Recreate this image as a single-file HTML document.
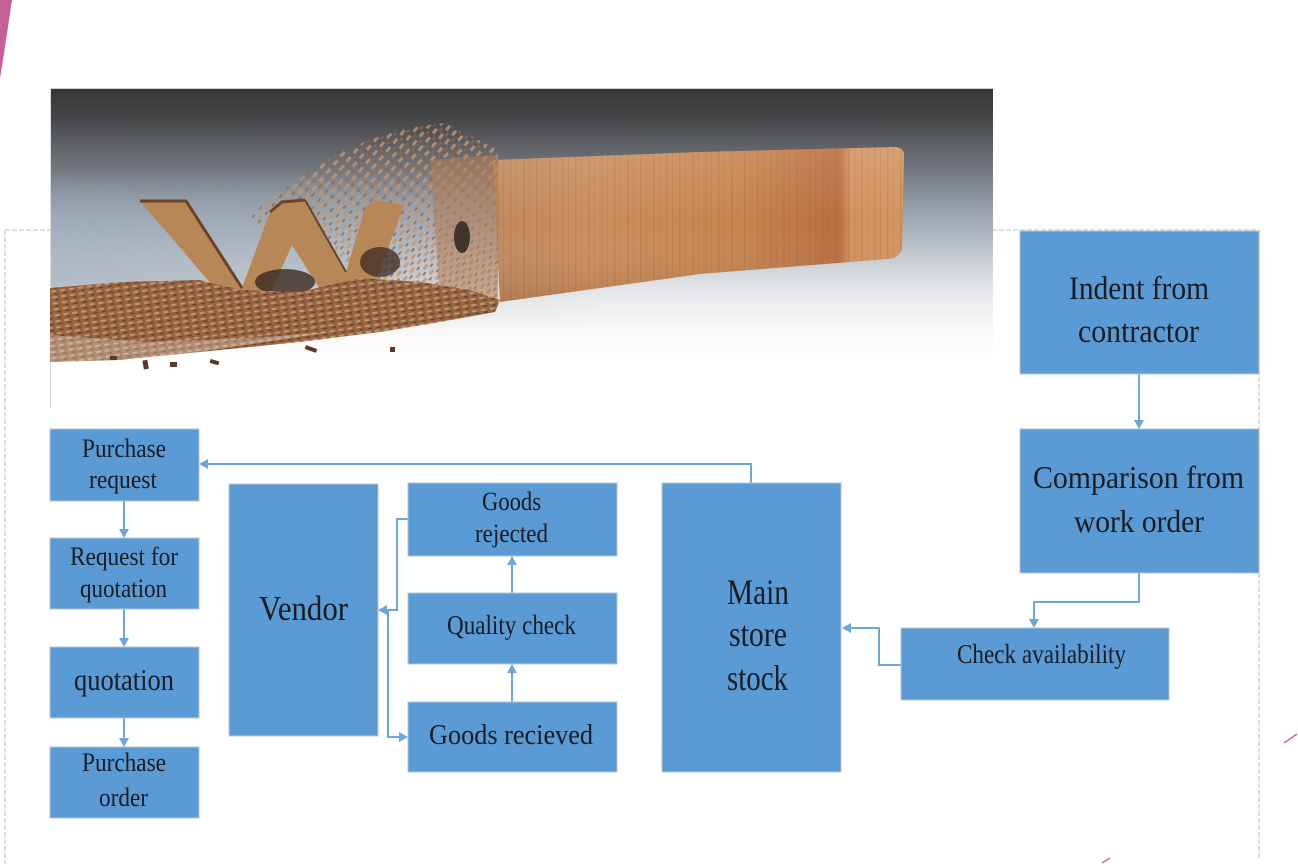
<!DOCTYPE html>
<html>
<head>
<meta charset="utf-8">
<style>
html,body{margin:0;padding:0;background:#fff;}
body{width:1298px;height:864px;overflow:hidden;}
svg{display:block;}
text{font-family:"Liberation Serif","DejaVu Serif",serif;fill:#161c22;}
</style>
</head>
<body>
<svg width="1298" height="864" viewBox="0 0 1298 864" xmlns="http://www.w3.org/2000/svg">
<defs>
  <linearGradient id="bg" gradientUnits="userSpaceOnUse" x1="0" y1="89" x2="0" y2="408">
    <stop offset="0" stop-color="#363636"/>
    <stop offset="0.097" stop-color="#47484a"/>
    <stop offset="0.22" stop-color="#6a6e74"/>
    <stop offset="0.35" stop-color="#8e97a2"/>
    <stop offset="0.46" stop-color="#aeb7c1"/>
    <stop offset="0.55" stop-color="#cdd2d7"/>
    <stop offset="0.65" stop-color="#e9eaec"/>
    <stop offset="0.755" stop-color="#f8f8f8"/>
    <stop offset="0.85" stop-color="#ffffff"/>
    <stop offset="1" stop-color="#ffffff"/>
  </linearGradient>
  <linearGradient id="blueV" gradientUnits="userSpaceOnUse" x1="0" y1="170" x2="0" y2="330">
    <stop offset="0" stop-color="#9eabba" stop-opacity="0"/>
    <stop offset="0.3" stop-color="#9eabba" stop-opacity="0.6"/>
    <stop offset="0.7" stop-color="#a7b3c1" stop-opacity="0.8"/>
    <stop offset="1" stop-color="#c0c8d0" stop-opacity="0"/>
  </linearGradient>
  <linearGradient id="fadeH" gradientUnits="userSpaceOnUse" x1="50" y1="0" x2="600" y2="0">
    <stop offset="0" stop-color="#fff" stop-opacity="1"/>
    <stop offset="0.55" stop-color="#fff" stop-opacity="0.7"/>
    <stop offset="1" stop-color="#fff" stop-opacity="0"/>
  </linearGradient>
  <mask id="mH" maskUnits="userSpaceOnUse" x="50" y="89" width="943" height="319">
    <rect x="50" y="89" width="943" height="319" fill="url(#fadeH)"/>
  </mask>
  <linearGradient id="plank" gradientUnits="userSpaceOnUse" x1="490" y1="0" x2="905" y2="0">
    <stop offset="0" stop-color="#c08a5e"/>
    <stop offset="0.25" stop-color="#c98e5e"/>
    <stop offset="0.6" stop-color="#c7854f"/>
    <stop offset="0.84" stop-color="#b96d3f"/>
    <stop offset="0.87" stop-color="#d39260"/>
    <stop offset="1" stop-color="#d3955f"/>
  </linearGradient>
  <linearGradient id="plankV" gradientUnits="userSpaceOnUse" x1="0" y1="148" x2="0" y2="300">
    <stop offset="0" stop-color="#ffffff" stop-opacity="0.12"/>
    <stop offset="0.5" stop-color="#ffffff" stop-opacity="0"/>
    <stop offset="1" stop-color="#5a2e10" stop-opacity="0.15"/>
  </linearGradient>
  <pattern id="grain" width="13" height="20" patternUnits="userSpaceOnUse">
    <rect x="3" y="0" width="1.5" height="20" fill="#9a5a30" opacity="0.25"/>
    <rect x="9" y="0" width="1" height="20" fill="#9a5a30" opacity="0.18"/>
  </pattern>
  <pattern id="flakes" width="11" height="8" patternUnits="userSpaceOnUse" patternTransform="rotate(-50)">
    <rect x="0" y="0" width="6" height="3" fill="#c9956b"/>
    <rect x="6" y="4" width="4" height="2" fill="#9a6644"/>
  </pattern>
  <pattern id="pile" width="9" height="6" patternUnits="userSpaceOnUse" patternTransform="rotate(-8)">
    <rect x="0" y="0" width="9" height="6" fill="#946443"/>
    <rect x="1" y="1" width="5" height="2" fill="#c4946a"/>
    <rect x="4" y="4" width="4" height="1.5" fill="#6a4329"/>
  </pattern>
</defs>

<!-- pink decoration -->
<polygon points="0,0 12,0 3,60 0,78" fill="#c55f98"/>
<line x1="1284" y1="743" x2="1297" y2="734" stroke="#d466a6" stroke-width="1.5"/>
<line x1="1102" y1="863" x2="1110" y2="858" stroke="#d466a6" stroke-width="1.5"/>

<!-- dashed frame -->
<g stroke="#dedede" stroke-width="2" stroke-dasharray="5 2" fill="none">
  <line x1="5" y1="230" x2="5" y2="864"/>
  <line x1="5" y1="230" x2="1259" y2="230"/>
  <line x1="1259" y1="230" x2="1259" y2="858"/>
</g>

<!-- photo -->
<rect x="50" y="89" width="943" height="319" fill="url(#bg)"/>
<rect x="50" y="170" width="560" height="160" fill="url(#blueV)" mask="url(#mH)"/>
<line x1="50" y1="88.5" x2="993" y2="88.5" stroke="#cfcfcf" stroke-width="1"/>
<line x1="50.5" y1="89" x2="50.5" y2="408" stroke="#d8dde2" stroke-width="1"/>

<!-- plank -->
<path d="M493,160 L700,152 L896,147 Q905,148 904,157 L902,248 Q900,258 888,259 L700,274 L500,302 Z" fill="url(#plank)"/>
<path d="M493,160 L700,152 L896,147 Q905,148 904,157 L902,248 Q900,258 888,259 L700,274 L500,302 Z" fill="url(#grain)"/>
<path d="M493,160 L700,152 L896,147 Q905,148 904,157 L902,248 Q900,258 888,259 L700,274 L500,302 Z" fill="url(#plankV)"/>

<!-- particle cloud -->
<path d="M250,215 L290,185 L340,152 L395,130 L445,123 L498,150 L498,300 L440,305 L380,280 L320,248 L270,238 Z" fill="url(#flakes)" opacity="0.8"/>
<path d="M430,160 L498,155 L498,300 L440,300 Z" fill="#b07c55" opacity="0.55"/>

<!-- W letter -->
<polygon points="140,201 186,201 242,288 270,212 282,202 305,200 346,272 365,208 374,200 404,205 372,292 348,306 328,302 292,245 264,308 242,314 230,306" fill="#b88758"/>
<polyline points="140,201 186,201 242,288" fill="none" stroke="#6b4326" stroke-width="3"/>
<polyline points="270,212 282,202 305,200" fill="none" stroke="#6b4326" stroke-width="3"/>
<line x1="305" y1="200" x2="346" y2="272" stroke="#6b4326" stroke-width="2"/>

<!-- dark holes -->
<ellipse cx="285" cy="282" rx="30" ry="13" fill="#3b2a1f" opacity="0.8"/>
<ellipse cx="380" cy="262" rx="20" ry="15" fill="#3a2a20" opacity="0.75"/>
<ellipse cx="462" cy="237" rx="8" ry="16" fill="#2d2420" opacity="0.85"/>

<!-- debris pile -->
<path d="M50,288 L120,282 L200,280 L240,290 L300,292 L360,278 L420,282 L470,290 L500,300 L495,312 L440,322 L380,332 L300,342 L200,352 L120,360 L50,362 Z" fill="url(#pile)"/>
<path d="M50,335 L150,342 L250,338 L330,332 L200,352 L120,360 L50,362 Z" fill="#f3efe9" opacity="0.3"/>
<g fill="#5a3a26">
  <rect x="143" y="360" width="5" height="9" transform="rotate(-10 146 364)"/>
  <rect x="170" y="362" width="7" height="5"/>
  <rect x="210" y="360" width="9" height="4" transform="rotate(15 214 362)"/>
  <rect x="305" y="347" width="12" height="4" transform="rotate(20 311 349)"/>
  <rect x="390" y="347" width="5" height="5"/>
  <rect x="110" y="356" width="7" height="4"/>
</g>

<!-- connectors -->
<g stroke="#6ea6da" stroke-width="2" fill="none">
  <polyline points="751,483 751,464 207,464"/>
  <line x1="124" y1="501" x2="124" y2="531"/>
  <line x1="124" y1="609" x2="124" y2="640"/>
  <line x1="124" y1="718" x2="124" y2="740"/>
  <polyline points="408,519 397,519 397,610 385,610"/>
  <polyline points="388,610 388,737 401,737"/>
  <line x1="512" y1="702" x2="512" y2="671"/>
  <line x1="512" y1="593" x2="512" y2="563"/>
  <line x1="1139" y1="374" x2="1139" y2="422"/>
  <polyline points="1139,573 1139,602 1034,602 1034,621"/>
  <polyline points="901,665 879,665 879,628 849,628"/>
</g>
<g fill="#6ea6da">
  <polygon points="199,464 208,459 208,469"/>
  <polygon points="124,538 119,529 129,529"/>
  <polygon points="124,647 119,638 129,638"/>
  <polygon points="124,747 119,738 129,738"/>
  <polygon points="378,610 387,605 387,615"/>
  <polygon points="408,737 399,732 399,742"/>
  <polygon points="512,664 507,673 517,673"/>
  <polygon points="512,556 507,565 517,565"/>
  <polygon points="1139,429 1134,420 1144,420"/>
  <polygon points="1034,628 1029,619 1039,619"/>
  <polygon points="842,628 851,623 851,633"/>
</g>

<!-- boxes -->
<g fill="#5b9bd5" stroke="#b4c3d2" stroke-width="1">
  <rect x="50" y="429" width="149" height="72"/>
  <rect x="50" y="538" width="149" height="71"/>
  <rect x="50" y="647" width="149" height="71"/>
  <rect x="50" y="747" width="149" height="71"/>
  <rect x="229" y="484" width="149" height="252"/>
  <rect x="408" y="483" width="209" height="73"/>
  <rect x="408" y="593" width="209" height="71"/>
  <rect x="408" y="702" width="209" height="70"/>
  <rect x="662" y="483" width="179" height="289"/>
  <rect x="1020" y="231" width="239" height="143"/>
  <rect x="1020" y="429" width="239" height="144"/>
  <rect x="901" y="628" width="268" height="72"/>
</g>

<!-- labels -->
<g>
  <text x="82" y="457" font-size="26" textLength="84" lengthAdjust="spacingAndGlyphs">Purchase</text>
  <text x="89" y="488" font-size="26" textLength="68" lengthAdjust="spacingAndGlyphs">request</text>
  <text x="70" y="565" font-size="26" textLength="108" lengthAdjust="spacingAndGlyphs">Request for</text>
  <text x="80" y="597" font-size="26" textLength="87" lengthAdjust="spacingAndGlyphs">quotation</text>
  <text x="74" y="690" font-size="31" textLength="100" lengthAdjust="spacingAndGlyphs">quotation</text>
  <text x="82" y="771" font-size="26" textLength="84" lengthAdjust="spacingAndGlyphs">Purchase</text>
  <text x="99" y="806" font-size="26" textLength="49" lengthAdjust="spacingAndGlyphs">order</text>
  <text x="259" y="620" font-size="35" textLength="89" lengthAdjust="spacingAndGlyphs">Vendor</text>
  <text x="482" y="510" font-size="26" textLength="59" lengthAdjust="spacingAndGlyphs">Goods</text>
  <text x="475" y="542" font-size="26" textLength="73" lengthAdjust="spacingAndGlyphs">rejected</text>
  <text x="447" y="634" font-size="27" textLength="129" lengthAdjust="spacingAndGlyphs">Quality check</text>
  <text x="429" y="744" font-size="29" textLength="164" lengthAdjust="spacingAndGlyphs">Goods recieved</text>
  <text x="727" y="604" font-size="36" textLength="62" lengthAdjust="spacingAndGlyphs">Main</text>
  <text x="729" y="646" font-size="36" textLength="58" lengthAdjust="spacingAndGlyphs">store</text>
  <text x="727" y="690" font-size="36" textLength="61" lengthAdjust="spacingAndGlyphs">stock</text>
  <text x="1069" y="299" font-size="33" textLength="140" lengthAdjust="spacingAndGlyphs">Indent from</text>
  <text x="1078" y="342" font-size="33" textLength="121" lengthAdjust="spacingAndGlyphs">contractor</text>
  <text x="1033" y="488" font-size="32" textLength="211" lengthAdjust="spacingAndGlyphs">Comparison from</text>
  <text x="1074" y="532" font-size="32" textLength="130" lengthAdjust="spacingAndGlyphs">work order</text>
  <text x="957" y="663" font-size="27" textLength="169" lengthAdjust="spacingAndGlyphs">Check availability</text>
</g>
</svg>
</body>
</html>
